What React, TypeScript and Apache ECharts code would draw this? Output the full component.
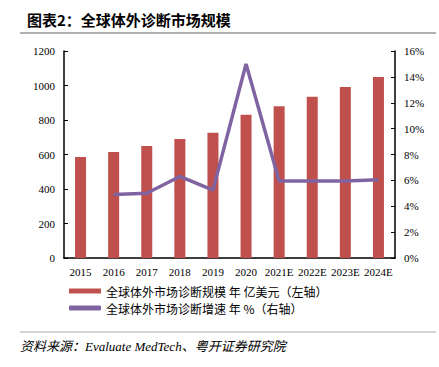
import React, { useEffect, useRef } from "react";
import * as echarts from "echarts";

const categories = ["2015", "2016", "2017", "2018", "2019", "2020", "2021E", "2022E", "2023E", "2024E"];
const marketSize = [585, 614, 649, 690, 726, 831, 879, 935, 991, 1049];
const growthRate: (number | null)[] = [null, 4.9, 5.0, 6.3, 5.25, 15.0, 5.95, 5.95, 5.95, 6.05];
const barName = "全球体外市场诊断规模 年 亿美元（左轴）";
const lineName = "全球体外市场诊断增速 年 %（右轴）";

const serif = "'Liberation Serif', 'DejaVu Serif', serif";

export default function App() {
  const ref = useRef<HTMLDivElement>(null);
  useEffect(() => {
    if (!ref.current) return;
    const chart = echarts.init(ref.current, null, { renderer: "svg" });
    chart.setOption({
      animation: false,
      backgroundColor: "#ffffff",
      title: {
        text: "图表2：全球体外诊断市场规模",
        left: 22,
        top: 7,
        textStyle: { fontSize: 15, fontWeight: "bold", color: "#000", fontFamily: "'Noto Sans CJK SC', sans-serif" },
      },
      graphic: [
        { type: "line", shape: { x1: 20, y1: 33, x2: 436, y2: 33 }, style: { stroke: "#999", lineWidth: 1.5 } },
        { type: "line", shape: { x1: 20, y1: 332, x2: 436, y2: 332 }, style: { stroke: "#aaa", lineWidth: 1 } },
        {
          type: "text",
          left: 20,
          top: 340,
          style: {
            text: "资料来源：Evaluate MedTech、粤开证券研究院",
            fontSize: 13,
            fontStyle: "italic",
            fill: "#000",
            fontFamily: "'Liberation Serif', 'Noto Sans CJK SC', serif",
          },
        },
      ],
      legend: {
        orient: "vertical",
        left: 64,
        top: 279,
        itemWidth: 32,
        itemHeight: 5,
        itemGap: 3,
        textStyle: { fontSize: 12, lineHeight: 14, color: "#000", fontFamily: "'Noto Sans CJK SC', serif" },
        data: [
          { name: barName, icon: "rect" },
          { name: lineName, icon: "roundRect" },
        ],
      },
      grid: { left: 64, right: 44, top: 51, bottom: 109 },
      xAxis: {
        type: "category",
        data: categories,
        axisLine: { lineStyle: { color: "#000", width: 1.5 } },
        axisTick: { show: false },
        axisLabel: { fontSize: 11, color: "#000", fontFamily: serif, margin: 8, interval: 0 },
      },
      yAxis: [
        {
          type: "value",
          min: 0,
          max: 1200,
          interval: 200,
          axisLine: { show: true, lineStyle: { color: "#000", width: 1.5 } },
          axisTick: { show: true, inside: true, length: 4, lineStyle: { color: "#000" } },
          splitLine: { show: false },
          axisLabel: { fontSize: 11, color: "#000", fontFamily: serif, margin: 9, formatter: (v: number) => String(v) },
        },
        {
          type: "value",
          min: 0,
          max: 16,
          interval: 2,
          position: "right",
          axisLine: { show: true, lineStyle: { color: "#000", width: 1.5 } },
          axisTick: { show: true, inside: true, length: 4, lineStyle: { color: "#000" } },
          splitLine: { show: false },
          axisLabel: { fontSize: 11, color: "#000", fontFamily: serif, margin: 9, formatter: "{value}%" },
        },
      ],
      series: [
        {
          name: barName,
          type: "bar",
          data: marketSize,
          barWidth: 11,
          itemStyle: { color: "#C0504D" },
        },
        {
          name: lineName,
          type: "line",
          yAxisIndex: 1,
          data: growthRate,
          symbol: "none",
          lineStyle: { color: "#8064A2", width: 3.5 },
          itemStyle: { color: "#8064A2" },
        },
      ],
    });
    return () => chart.dispose();
  }, []);
  return <div ref={ref} style={{ position: "fixed", left: 0, top: 0, width: 439, height: 367 }} />;
}
